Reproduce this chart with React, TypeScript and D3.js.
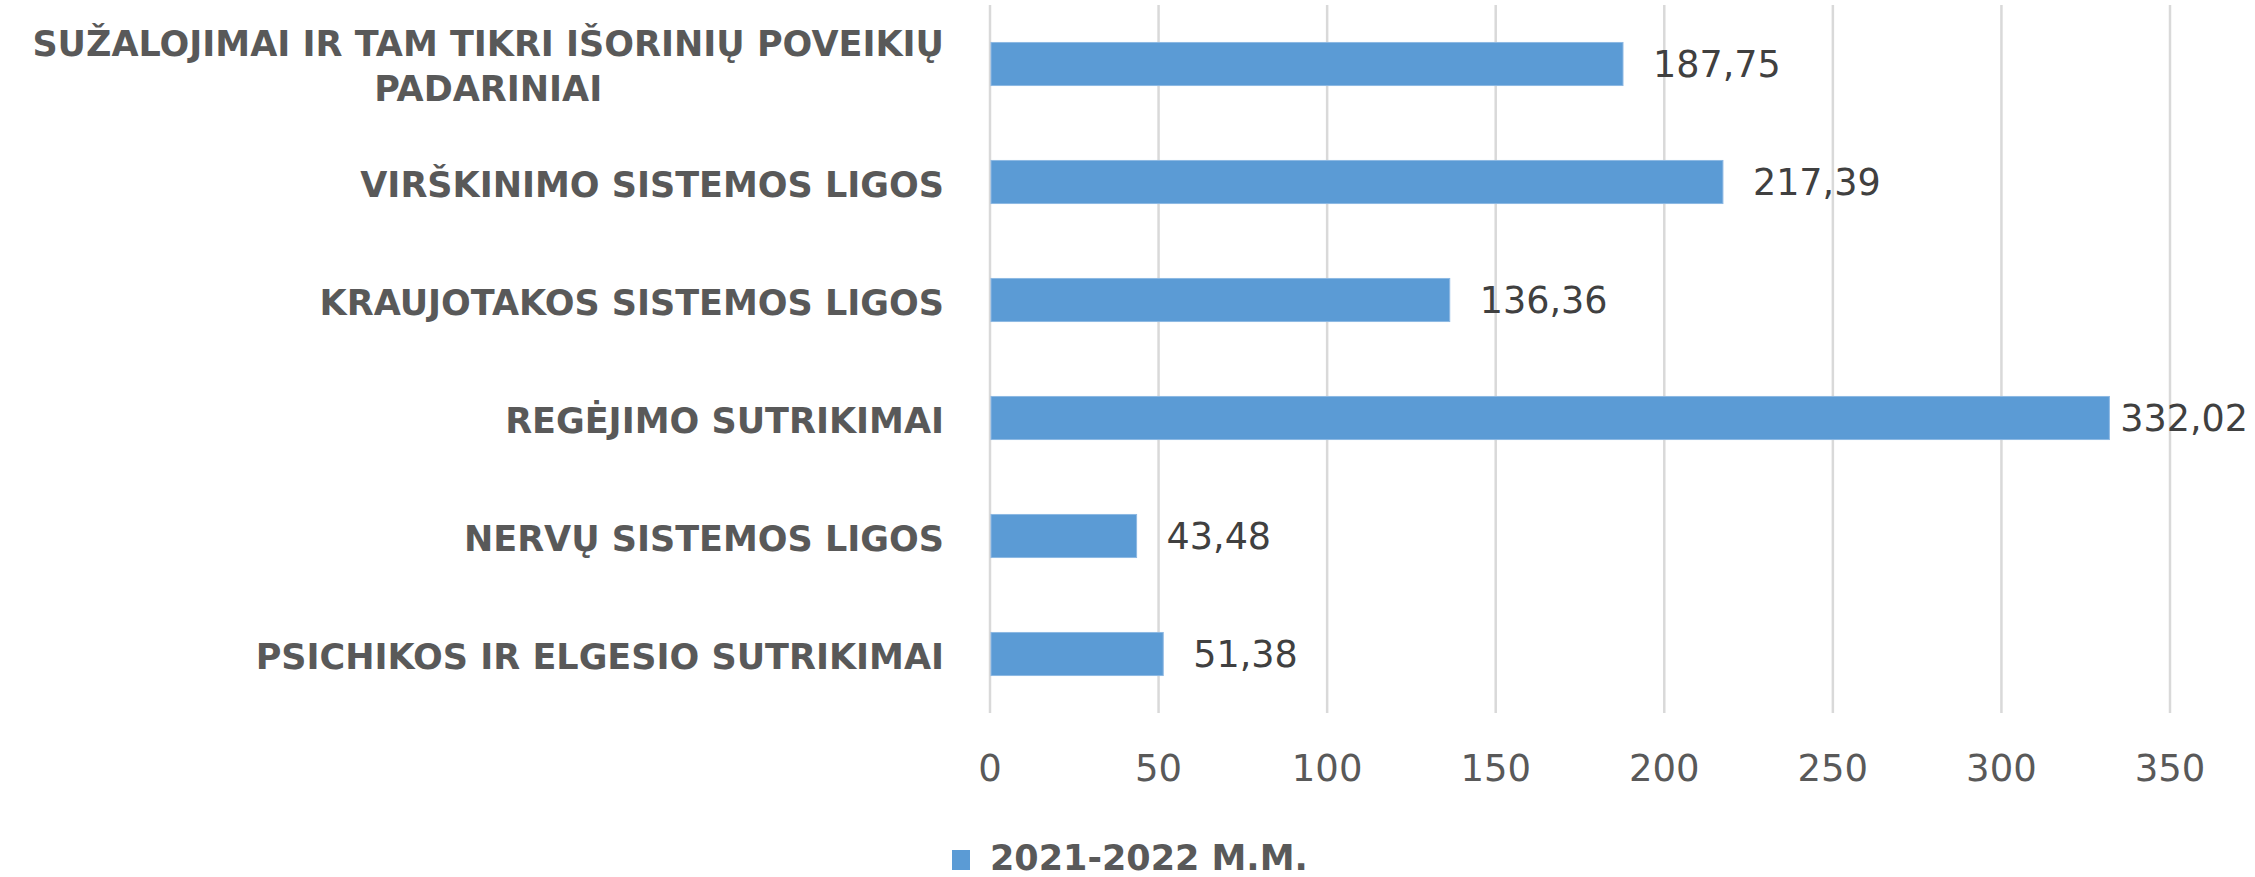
import React, { useEffect, useRef } from "react";
import * as d3 from "d3";

const categories = [
  "PSICHIKOS IR ELGESIO SUTRIKIMAI",
  "NERVŲ SISTEMOS LIGOS",
  "REGĖJIMO SUTRIKIMAI",
  "KRAUJOTAKOS SISTEMOS LIGOS",
  "VIRŠKINIMO SISTEMOS LIGOS",
  "SUŽALOJIMAI IR TAM TIKRI IŠORINIŲ POVEIKIŲ PADARINIAI",
];
const values = [51.38, 43.48, 332.02, 136.36, 217.39, 187.75];
const xTicks = [0, 50, 100, 150, 200, 250, 300, 350];
const seriesName = "2021-2022 M.M.";

const W = 2255;
const H = 877;
const FONT = "'DejaVu Sans', 'Liberation Sans', sans-serif";

export default function App() {
  const ref = useRef<SVGSVGElement | null>(null);

  useEffect(() => {
    const svg = d3.select(ref.current);
    svg.selectAll("*").remove();

    const left = 990;
    const right = 2170;
    const top = 5;
    const bottom = 713;

    const x = d3.scaleLinear().domain([0, 350]).range([left, right]);
    const y = d3
      .scaleBand<string>()
      .domain(categories)
      .range([bottom, top])
      .paddingInner(0.635)
      .paddingOuter(0.3175);

    // gridlines
    svg
      .append("g")
      .selectAll("line")
      .data(xTicks)
      .join("line")
      .attr("x1", (d) => x(d))
      .attr("x2", (d) => x(d))
      .attr("y1", top)
      .attr("y2", bottom)
      .attr("stroke", "#D9D9D9")
      .attr("stroke-width", 2.5);

    // tick labels
    svg
      .append("g")
      .selectAll("text")
      .data(xTicks)
      .join("text")
      .attr("x", (d) => x(d))
      .attr("y", 781)
      .attr("text-anchor", "middle")
      .attr("font-family", FONT)
      .attr("font-size", 37)
      .attr("fill", "#595959")
      .text((d) => String(d));

    // bars
    svg
      .append("g")
      .selectAll("rect")
      .data(categories)
      .join("rect")
      .attr("x", x(0) + 1)
      .attr("y", (d) => y(d)!)
      .attr("width", (d, i) => x(values[i]) - x(0) - 1)
      .attr("height", y.bandwidth())
      .attr("fill", "#5B9BD5")
      .attr("stroke", "#8DB8E3")
      .attr("stroke-width", 1);

    // value labels
    const fmt = d3.format(".2f");
    const vg = svg.append("g");
    categories.forEach((c, i) => {
      const cy = y(c)! + y.bandwidth() / 2;
      const t = vg
        .append("text")
        .attr("font-family", FONT)
        .attr("font-size", 36.5)
        .attr("fill", "#404040")
        .attr("y", cy + 13)
        .text(fmt(values[i]).replace(".", ","));
      const w = (t.node() as SVGTextElement).getComputedTextLength();
      let lx = x(values[i]) + 30;
      if (lx + w > 2248) lx = Math.max(x(values[i]) + 4, 2248 - w);
      t.attr("x", lx);
    });

    // category labels with wrapping
    const cg = svg.append("g");
    const labelRight = 944;
    const maxW = 940;
    const fs = 35;
    const lineH = 45;
    categories.forEach((c) => {
      const cy = y(c)! + y.bandwidth() / 2;
      const words = c.split(" ");
      const lines: string[] = [];
      const probe = cg
        .append("text")
        .attr("font-family", FONT)
        .attr("font-size", fs)
        .attr("font-weight", "bold");
      let cur = "";
      words.forEach((wd) => {
        const test = cur ? cur + " " + wd : wd;
        probe.text(test);
        if ((probe.node() as SVGTextElement).getComputedTextLength() > maxW && cur) {
          lines.push(cur);
          cur = wd;
        } else {
          cur = test;
        }
      });
      if (cur) lines.push(cur);
      const widths = lines.map((l) => {
        probe.text(l);
        return (probe.node() as SVGTextElement).getComputedTextLength();
      });
      probe.remove();
      const blockW = Math.max(...widths);
      const cx = labelRight - blockW / 2;
      const capH = fs * 0.729;
      const firstBase = cy - ((lines.length - 1) * lineH) / 2 + capH / 2 + 2;
      lines.forEach((l, li) => {
        cg.append("text")
          .attr("font-family", FONT)
          .attr("font-size", fs)
          .attr("font-weight", "bold")
          .attr("fill", "#595959")
          .attr("text-anchor", "middle")
          .attr("x", cx)
          .attr("y", firstBase + li * lineH)
          .text(l);
      });
    });

    // legend
    const lg = svg.append("g");
    lg.append("rect")
      .attr("x", 952)
      .attr("y", 850)
      .attr("width", 18)
      .attr("height", 20)
      .attr("fill", "#5B9BD5");
    lg.append("text")
      .attr("x", 990)
      .attr("y", 870)
      .attr("font-family", FONT)
      .attr("font-size", 35)
      .attr("font-weight", "bold")
      .attr("fill", "#595959")
      .text(seriesName);
  }, []);

  return (
    <svg
      ref={ref}
      width={W}
      height={H}
      style={{ position: "absolute", left: 0, top: 0, display: "block", background: "#fff" }}
    />
  );
}
